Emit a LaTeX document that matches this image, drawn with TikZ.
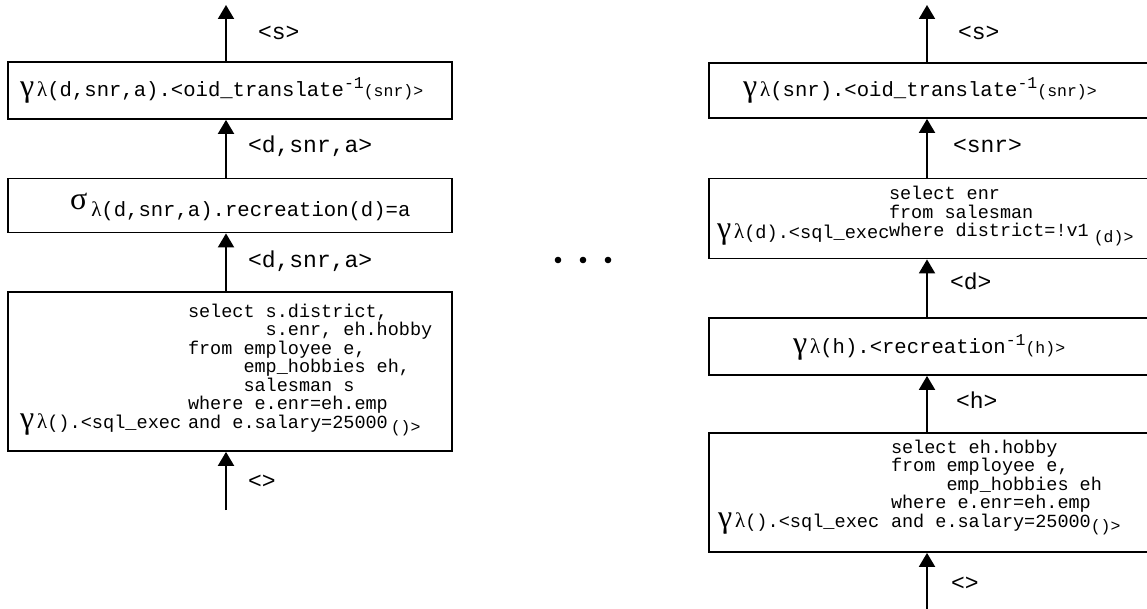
\documentclass[tikz,border=0pt]{standalone}
\usepackage{fontspec}
\usetikzlibrary{arrows.meta}
\newfontfamily\monof{Liberation Mono}
\newfontfamily\serf{Liberation Serif}
\newcommand{\lab}{\monof\fontsize{23}{27}\selectfont}
\newcommand{\gam}{\serf\fontsize{32}{36}\selectfont}
\newcommand{\lam}{\serf\fontsize{21}{24}\selectfont}
\newcommand{\mainm}{\monof\fontsize{20.6}{24}\selectfont}
\newcommand{\execm}{\monof\fontsize{18.6}{22}\selectfont}
\newcommand{\smallm}{\monof\fontsize{16.5}{20}\selectfont}
\newcommand{\sqlm}{\monof\fontsize{18.5}{18.5}\selectfont}
\newcommand{\mind}[1]{\hskip #1\fontdimen2\font\relax}
\newcommand{\sqlblock}[1]{\vbox{\sqlm\baselineskip=18.5pt\lineskiplimit=-1000pt #1}}
\begin{document}
\begin{tikzpicture}[x=1pt,y=-1pt,
  box/.style={draw, line width=1.8pt, minimum width=444pt, inner sep=0pt},
  arr/.style={line width=2pt, -{Triangle[width=16pt,length=14pt]}},
  txt/.style={inner sep=0pt, outer sep=0pt, anchor=base west},
  lbl/.style={inner sep=0pt, outer sep=0pt, anchor=base west, font=\lab}]
\useasboundingbox (0,0) rectangle (1147,609);
\clip (0,0) rectangle (1147,609);

% ---------------- left column ----------------
\node[box, minimum height=57pt] (L1) at (230,90.5) {};
\node[box, minimum height=54pt] (L2) at (230,205.5) {};
\node[box, minimum height=159pt] (L3) at (230,371.5) {};

\coordinate (Ltop) at (226,5);
\coordinate (Lbot) at (226,510);
\draw[arr] (L1.north -| Ltop) -- (Ltop);
\draw[arr] (L2.north -| Ltop) -- (L1.south -| Ltop);
\draw[arr] (L3.north -| Ltop) -- (L2.south -| Ltop);
\draw[arr] (Lbot) -- (L3.south -| Ltop);

\node[lbl] (ls) at (258,40) {<s>};
\node[lbl] (la) at (248,153) {<d,snr,a>};
\node[lbl] (lb) at (248,268) {<d,snr,a>};
\node[lbl] (lc) at (248,488) {<>};

\node[txt] (t1) at (20,97) {{\gam γ}\kern3pt{\lam λ}{\mainm(d,snr,a).<oid\_translate}\raisebox{8pt}{\smallm -1}{\smallm(snr)>}};
\node[txt] (t2) at (70,210) {{\gam σ}\kern4pt\raisebox{-7pt}{{\lam λ}{\mainm(d,snr,a).recreation(d)=a}}};
\node[txt] (t3a) at (20,428) {{\gam γ}\kern3pt{\lam λ}{\execm().<sql\_exec}};
\node[txt] (t3b) at (188,428) {\sqlblock{%
  \hbox{select s.district,}%
  \hbox{\mind7s.enr, eh.hobby}%
  \hbox{from employee e,}%
  \hbox{\mind5emp\_hobbies eh,}%
  \hbox{\mind5salesman s}%
  \hbox{where e.enr=eh.emp}%
  \hbox{and e.salary=25000\kern3pt\raisebox{-4pt}{\smallm()>}}}};

% ---------------- dots ----------------
\foreach \x in {558,583,608} \fill (\x,260) circle[radius=3.3pt];

% ---------------- right column ----------------
\node[box, minimum height=55pt] (R1) at (931,90.5) {};
\node[box, minimum height=80pt] (R2) at (931,218.5) {};
\node[box, minimum height=57pt] (R3) at (931,346.5) {};
\node[box, minimum height=119pt] (R4) at (931,492.5) {};

\coordinate (Rtop) at (927,5);
\coordinate (Rbot) at (927,615);
\draw[arr] (R1.north -| Rtop) -- (Rtop);
\draw[arr] (R2.north -| Rtop) -- (R1.south -| Rtop);
\draw[arr] (R3.north -| Rtop) -- (R2.south -| Rtop);
\draw[arr] (R4.north -| Rtop) -- (R3.south -| Rtop);
\draw[arr] (Rbot) -- (R4.south -| Rtop);

\node[lbl] (rs) at (958,40) {<s>};
\node[lbl] (rn) at (953,153) {<snr>};
\node[lbl] (rd) at (950,290) {<d>};
\node[lbl] (rh) at (956,408) {<h>};
\node[lbl] (re) at (951,590) {<>};

\node[txt] (u1) at (743,97) {{\gam γ}\kern3pt{\lam λ}{\mainm(snr).<oid\_translate}\raisebox{8pt}{\smallm -1}{\smallm(snr)>}};
\node[txt] (u2a) at (717,239) {{\gam γ}\kern3pt{\lam λ}{\execm(d).<sql\_exec}};
\node[txt] (u2b) at (889,237) {\sqlblock{%
  \hbox{select enr}%
  \hbox{from salesman}%
  \hbox{where district=!v1\kern5pt\raisebox{-6pt}{\smallm(d)>}}}};
\node[txt] (u3) at (793,353) {{\gam γ}\kern3pt{\lam λ}{\mainm(h).<recreation}\raisebox{8pt}{\smallm -1}{\smallm(h)>}};
\node[txt] (u4a) at (718,527) {{\gam γ}\kern3pt{\lam λ}{\execm().<sql\_exec}};
\node[txt] (u4b) at (891,527) {\sqlblock{%
  \hbox{select eh.hobby}%
  \hbox{from employee e,}%
  \hbox{\mind5emp\_hobbies eh}%
  \hbox{where e.enr=eh.emp}%
  \hbox{and e.salary=25000\raisebox{-4pt}{\smallm()>}}}};
\end{tikzpicture}
\end{document}
